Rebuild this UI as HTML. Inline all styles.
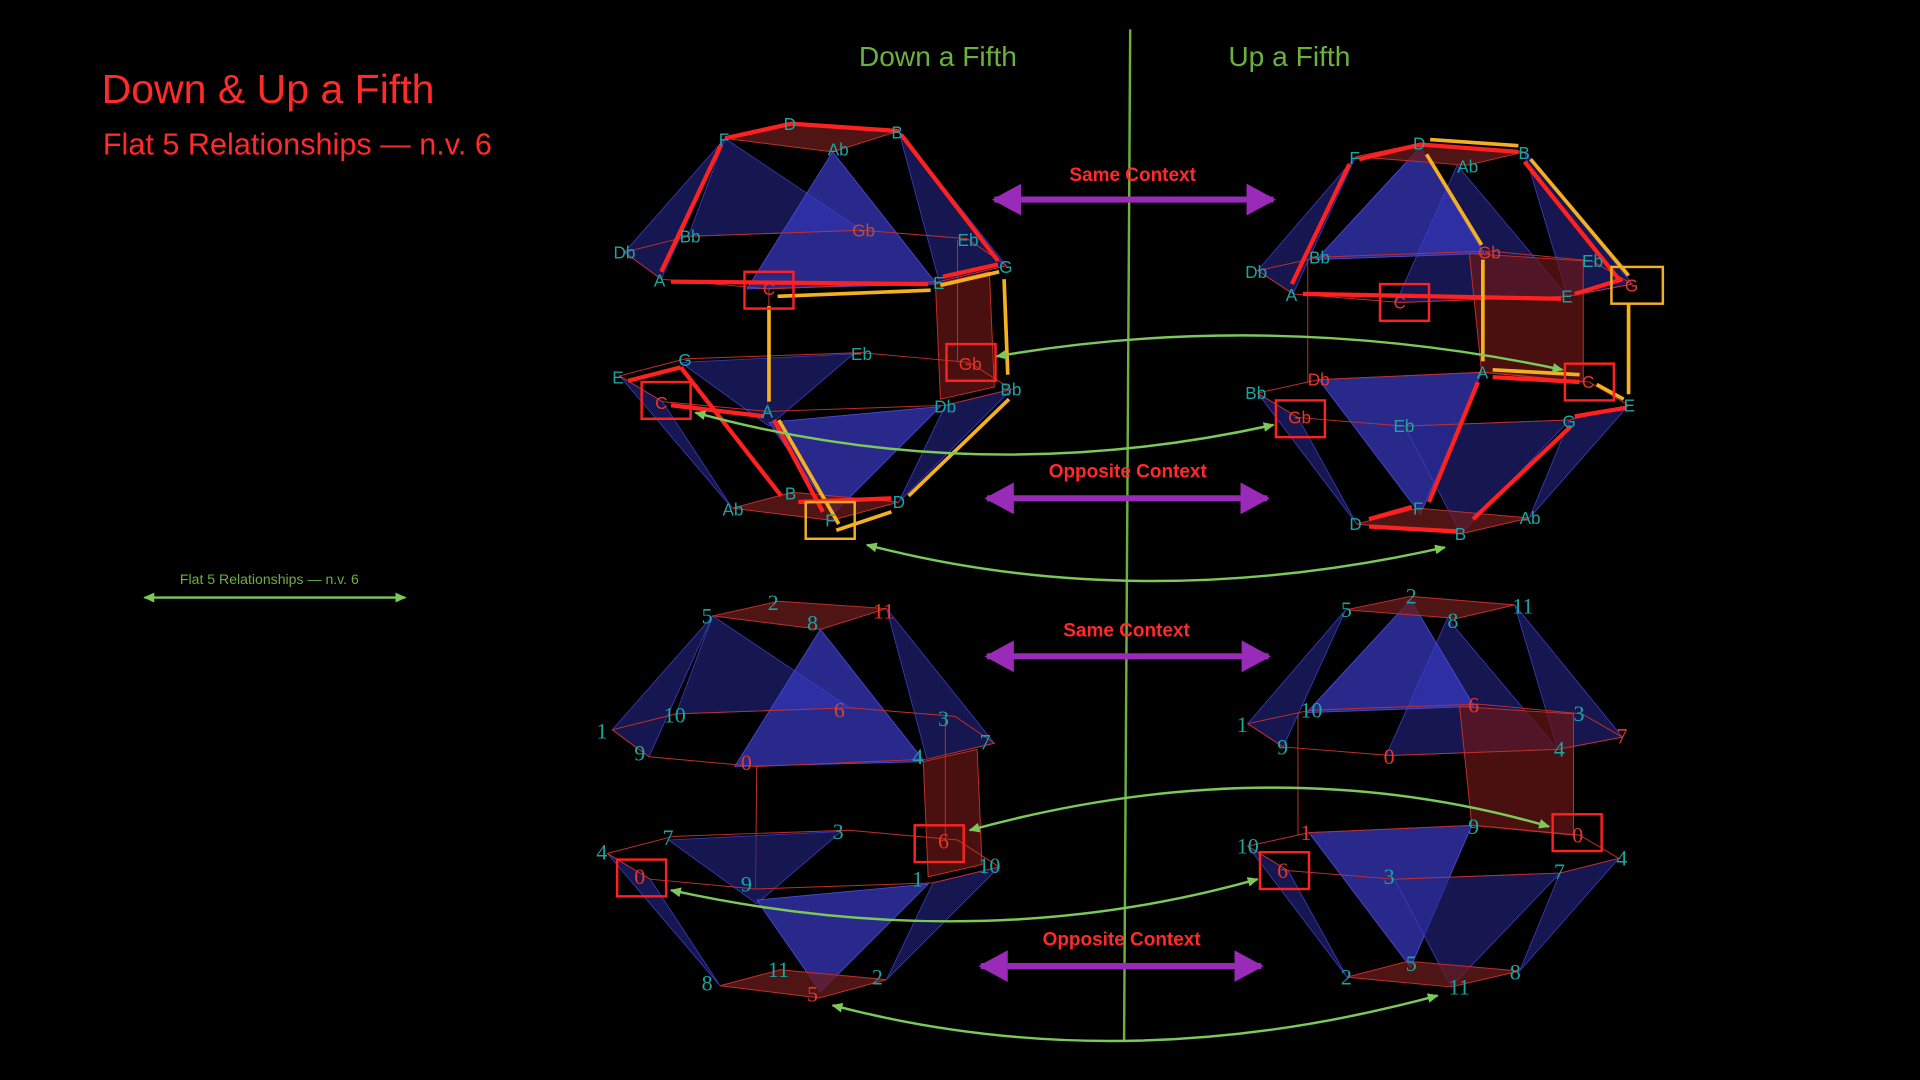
<!DOCTYPE html>
<html><head><meta charset="utf-8"><style>
html,body{margin:0;padding:0;background:#000;width:1920px;height:1080px;overflow:hidden}
svg{display:block}
.t{font-family:"Liberation Sans",sans-serif;font-size:14px;fill:#1aa5a0}
.r{fill:#e8352a}
.n{font-family:"Liberation Serif",serif;font-size:18px;fill:#1aa5a0}
.ctx{font-family:"Liberation Sans",sans-serif;font-size:15.5px;font-weight:bold;fill:#ff2a2a;text-anchor:middle}
.thin{fill:none;stroke:#c0302a;stroke-width:0.8}
.cap{fill:#6a1c1c;fill-opacity:.75;stroke:#c0302a;stroke-width:.8}
.bl{fill:#3a3ac8;fill-opacity:.7;stroke:#4a4ad8;stroke-width:.7}
.dk{fill:#252585;fill-opacity:.6;stroke:#3a3ab8;stroke-width:.7}
.rf{fill:#6a1515;fill-opacity:.7;stroke:#c0302a;stroke-width:.8}
.R{stroke:#ff2020;stroke-width:3.5;fill:none}
.Y{stroke:#f5b020;stroke-width:3;fill:none}
.bx{fill:none;stroke:#ff2020;stroke-width:2}
.by{fill:none;stroke:#f5b020;stroke-width:2}
.g{fill:none;stroke:#7cc85a;stroke-width:2}
</style></head><body>
<svg width="1920" height="1080" viewBox="0 0 1568 882" xmlns="http://www.w3.org/2000/svg">
<defs>
<marker id="ga" markerWidth="10" markerHeight="10" refX="8" refY="5" orient="auto-start-reverse" markerUnits="userSpaceOnUse"><path d="M0,1 L9,5 L0,9 z" fill="#7cc85a"/></marker>
<marker id="pa" markerWidth="26" markerHeight="26" refX="22" refY="13" orient="auto-start-reverse" markerUnits="userSpaceOnUse"><path d="M0,0 L24,13 L0,26 z" fill="#9a2ab8"/></marker>
<g id="L">
<polygon class="dk" points="592,113 562,193 704,188"/>
<polygon class="dk" points="592,113 510,206 540,228"/>
<polygon class="dk" points="734,107 822,217 767,230"/>
<polygon class="bl" points="680,124 610,236 765,232"/>
<polygon class="cap" points="592,113 646,101 734,107 680,124"/>
<polygon class="thin" points="510,206 562,193 704,188 790,195 822,217 767,230 628,236 540,228"/>
<polygon class="rf" points="764,232 808,222 812,316 768,326"/>
<line class="thin" x1="628" y1="236" x2="627" y2="336"/>
<line class="thin" x1="782" y1="196" x2="782" y2="296"/>
<polygon class="dk" points="556,296 697,289 628,348"/>
<polygon class="dk" points="506,307 598,415 541,328"/>
<polygon class="dk" points="826,318 734,410 772,331"/>
<polygon class="bl" points="628,345 768,332 680,420"/>
<polygon class="thin" points="506,307 560,293 703,288 792,296 826,318 772,331 627,336 541,328"/>
<polygon class="cap" points="598,415 647,402 734,410 679,425"/>
</g>
<g id="Rt">
<polygon class="dk" points="1107,128 1027,221 1056,240"/>
<polygon class="dk" points="1245,124 1333,232 1280,242"/>
<polygon class="dk" points="1190,135 1140,247 1280,242"/>
<polygon class="bl" points="1160,120 1075,212 1212,207"/>
<polygon class="cap" points="1107,128 1160,117 1245,124 1198,135"/>
<polygon class="rf" points="1200,207 1293,213 1293,312 1210,304"/>
<polygon class="thin" points="1027,221 1078,210 1216,205 1300,213 1333,232 1280,242 1144,247 1056,240"/>
<line class="thin" x1="1068" y1="212" x2="1068" y2="312"/>
<polygon class="dk" points="1027,321 1108,428 1060,341"/>
<polygon class="dk" points="1330,331 1249,423 1282,343"/>
<polygon class="bl" points="1077,310 1210,304 1160,420"/>
<polygon class="dk" points="1147,348 1282,343 1193,436"/>
<polygon class="thin" points="1027,321 1077,310 1212,304 1298,312 1330,331 1282,343 1147,348 1060,341"/>
<polygon class="cap" points="1108,428 1158,415 1249,423 1193,436"/>
</g>
</defs>

<use href="#L"/>
<use href="#Rt"/>
<use href="#L" transform="translate(-10,390)"/>
<use href="#Rt" transform="translate(-8,370)"/>

<line x1="923" y1="24" x2="918" y2="850" stroke="#6cb040" stroke-width="2"/>

<text x="83" y="84" font-family="Liberation Sans,sans-serif" font-size="33.5" fill="#ff2a2a">Down &amp; Up a Fifth</text>
<text x="84" y="126" font-family="Liberation Sans,sans-serif" font-size="25" fill="#ff2a2a">Flat 5 Relationships — n.v. 6</text>
<text x="766" y="54" font-family="Liberation Sans,sans-serif" font-size="23" fill="#6cb040" text-anchor="middle">Down a Fifth</text>
<text x="1053" y="54" font-family="Liberation Sans,sans-serif" font-size="23" fill="#6cb040" text-anchor="middle">Up a Fifth</text>
<text x="220" y="477" font-family="Liberation Sans,sans-serif" font-size="11.5" fill="#6cb040" text-anchor="middle">Flat 5 Relationships — n.v. 6</text>
<line x1="118" y1="488" x2="331" y2="488" class="g" marker-start="url(#ga)" marker-end="url(#ga)"/>

<polyline class="R" points="592,113 646,101 734,107"/>
<line class="R" x1="736" y1="110" x2="815" y2="213"/>
<line class="R" x1="589" y1="118" x2="540" y2="222"/>
<line class="R" x1="548" y1="230" x2="758" y2="232"/>
<line class="R" x1="770" y1="226" x2="815" y2="216"/>
<line class="Y" x1="635" y1="242" x2="760" y2="237"/>
<line class="Y" x1="768" y1="233" x2="816" y2="222"/>
<line class="Y" x1="820" y1="228" x2="823" y2="306"/>
<line class="Y" x1="628" y1="250" x2="628" y2="328"/>
<line class="R" x1="513" y1="311" x2="556" y2="300"/>
<line class="R" x1="556" y1="300" x2="638" y2="405"/>
<line class="R" x1="548" y1="331" x2="624" y2="340"/>
<line class="R" x1="632" y1="343" x2="672" y2="418"/>
<line class="Y" x1="636" y1="343" x2="685" y2="428"/>
<line class="Y" x1="824" y1="326" x2="742" y2="405"/>
<line class="R" x1="652" y1="410" x2="728" y2="407"/>
<line class="Y" x1="683" y1="433" x2="728" y2="418"/>
<rect class="bx" x="608" y="222" width="40" height="30"/>
<rect class="bx" x="773" y="281" width="40" height="30"/>
<rect class="bx" x="524" y="312" width="40" height="30"/>
<rect class="by" x="658" y="410" width="40" height="30"/>

<polyline class="R" points="1110,130 1160,118 1240,124"/>
<line class="Y" x1="1168" y1="114" x2="1240" y2="119"/>
<line class="Y" x1="1250" y1="130" x2="1330" y2="225"/>
<line class="R" x1="1245" y1="132" x2="1322" y2="228"/>
<line class="R" x1="1102" y1="134" x2="1055" y2="232"/>
<line class="Y" x1="1165" y1="126" x2="1210" y2="200"/>
<line class="R" x1="1064" y1="240" x2="1275" y2="244"/>
<line class="R" x1="1286" y1="240" x2="1325" y2="228"/>
<line class="Y" x1="1211" y1="212" x2="1211" y2="295"/>
<line class="Y" x1="1330" y1="248" x2="1330" y2="322"/>
<line class="Y" x1="1219" y1="302" x2="1290" y2="306"/>
<line class="R" x1="1219" y1="308" x2="1290" y2="312"/>
<line class="Y" x1="1304" y1="314" x2="1326" y2="326"/>
<line class="R" x1="1286" y1="340" x2="1328" y2="333"/>
<line class="R" x1="1207" y1="312" x2="1167" y2="410"/>
<line class="R" x1="1283" y1="348" x2="1203" y2="424"/>
<line class="R" x1="1118" y1="424" x2="1153" y2="414"/>
<line class="R" x1="1118" y1="430" x2="1190" y2="434"/>
<rect class="bx" x="1127" y="232" width="40" height="30"/>
<rect class="by" x="1316" y="218" width="42" height="30"/>
<rect class="bx" x="1278" y="297" width="40" height="30"/>
<rect class="bx" x="1042" y="327" width="40" height="30"/>

<rect class="bx" x="747" y="674" width="40" height="30"/>
<rect class="bx" x="504" y="702" width="40" height="30"/>
<rect class="bx" x="1268" y="665" width="40" height="30"/>
<rect class="bx" x="1029" y="696" width="40" height="30"/>

<path class="g" d="M814,291 Q1040,252 1276,302" marker-start="url(#ga)" marker-end="url(#ga)"/>
<path class="g" d="M568,337 Q800,400 1040,347" marker-start="url(#ga)" marker-end="url(#ga)"/>
<path class="g" d="M708,445 Q930,503 1180,447" marker-start="url(#ga)" marker-end="url(#ga)"/>
<path class="g" d="M792,678 Q1040,610 1265,675" marker-start="url(#ga)" marker-end="url(#ga)"/>
<path class="g" d="M548,727 Q800,782 1027,718" marker-start="url(#ga)" marker-end="url(#ga)"/>
<path class="g" d="M680,821 Q917,883 1174,813" marker-start="url(#ga)" marker-end="url(#ga)"/>

<line x1="812" y1="163" x2="1040" y2="163" stroke="#9a2ab8" stroke-width="5" marker-start="url(#pa)" marker-end="url(#pa)"/>
<line x1="806" y1="407" x2="1035" y2="407" stroke="#9a2ab8" stroke-width="5" marker-start="url(#pa)" marker-end="url(#pa)"/>
<line x1="806" y1="536" x2="1036" y2="536" stroke="#9a2ab8" stroke-width="5" marker-start="url(#pa)" marker-end="url(#pa)"/>
<line x1="801" y1="789" x2="1030" y2="789" stroke="#9a2ab8" stroke-width="5" marker-start="url(#pa)" marker-end="url(#pa)"/>
<text class="ctx" x="925" y="148">Same Context</text>
<text class="ctx" x="921" y="390">Opposite Context</text>
<text class="ctx" x="920" y="520">Same Context</text>
<text class="ctx" x="916" y="772">Opposite Context</text>

<g class="t">
<text x="587" y="119">F</text><text x="640" y="106">D</text><text x="728" y="113">B</text><text x="676" y="127">Ab</text>
<text x="501" y="211">Db</text><text x="555" y="198">Bb</text><text x="696" y="193" class="r" style="fill:#c04a3a">Gb</text><text x="782" y="201">Eb</text>
<text x="816" y="223">G</text><text x="762" y="236">E</text><text x="623" y="241" class="r">C</text><text x="534" y="234">A</text>
<text x="500" y="313">E</text><text x="554" y="299">G</text><text x="695" y="294">Eb</text><text x="783" y="302" class="r">Gb</text>
<text x="817" y="323">Bb</text><text x="763" y="337">Db</text><text x="622" y="341">A</text><text x="535" y="334" class="r">C</text>
<text x="590" y="421">Ab</text><text x="641" y="408">B</text><text x="729" y="415">D</text><text x="674" y="430">F</text>
</g>
<g class="t">
<text x="1102" y="134">F</text><text x="1154" y="122">D</text><text x="1240" y="130">B</text><text x="1190" y="141">Ab</text>
<text x="1017" y="227">Db</text><text x="1069" y="215">Bb</text><text x="1207" y="211" class="r">Gb</text><text x="1292" y="218">Eb</text>
<text x="1327" y="238" class="r">G</text><text x="1275" y="247">E</text><text x="1138" y="252" class="r">C</text><text x="1050" y="246">A</text>
<text x="1017" y="326">Bb</text><text x="1068" y="315" class="r">Db</text><text x="1206" y="309">A</text><text x="1292" y="317" class="r">C</text>
<text x="1326" y="336">E</text><text x="1276" y="349">G</text><text x="1138" y="353">Eb</text><text x="1052" y="346" class="r">Gb</text>
<text x="1102" y="433">D</text><text x="1154" y="420">F</text><text x="1241" y="428">Ab</text><text x="1188" y="441">B</text>
</g>
<g class="n">
<text x="573" y="509">5</text><text x="627" y="498">2</text><text x="713" y="505" style="fill:#e8352a">11</text><text x="659" y="515">8</text>
<text x="487" y="603">1</text><text x="542" y="590">10</text><text x="681" y="586" style="fill:#c04a3a">6</text><text x="766" y="593">3</text>
<text x="800" y="612">7</text><text x="745" y="624">4</text><text x="605" y="629" style="fill:#e8352a">0</text><text x="518" y="621">9</text>
<text x="487" y="702">4</text><text x="541" y="690">7</text><text x="680" y="685">3</text><text x="766" y="693" style="fill:#e8352a">6</text>
<text x="799" y="713">10</text><text x="745" y="724">1</text><text x="605" y="728">9</text><text x="518" y="722" style="fill:#e8352a">0</text>
<text x="573" y="809">8</text><text x="627" y="798">11</text><text x="712" y="804">2</text><text x="659" y="818" style="fill:#e8352a">5</text>
</g>
<g class="n">
<text x="1095" y="504">5</text><text x="1148" y="493">2</text><text x="1235" y="501">11</text><text x="1182" y="513">8</text>
<text x="1010" y="598">1</text><text x="1062" y="586">10</text><text x="1199" y="582" style="fill:#e8352a">6</text><text x="1285" y="589">3</text>
<text x="1320" y="607" style="fill:#e8352a">7</text><text x="1269" y="618">4</text><text x="1130" y="624" style="fill:#e8352a">0</text><text x="1043" y="616">9</text>
<text x="1010" y="697">10</text><text x="1062" y="686" style="fill:#e8352a">1</text><text x="1199" y="681">9</text><text x="1284" y="688" style="fill:#e8352a">0</text>
<text x="1320" y="707">4</text><text x="1269" y="718">7</text><text x="1130" y="722">3</text><text x="1043" y="717" style="fill:#e8352a">6</text>
<text x="1095" y="804">2</text><text x="1148" y="793">5</text><text x="1233" y="800">8</text><text x="1183" y="812">11</text>
</g>
</svg>
</body></html>
